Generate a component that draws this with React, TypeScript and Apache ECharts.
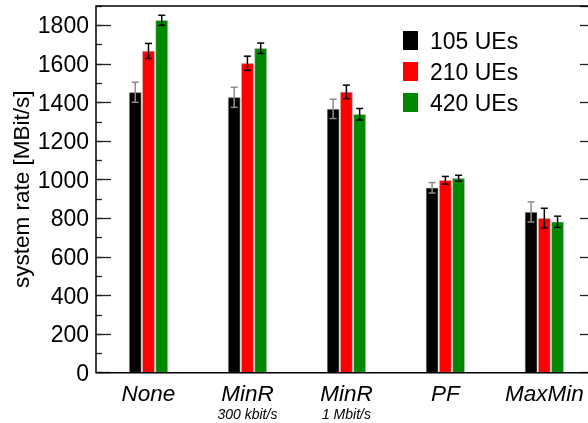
import React, { useEffect, useRef } from 'react';
import * as echarts from 'echarts';

// Scheduling strategies (label | optional sub-label)
const categories = ['None', 'MinR|300 kbit/s', 'MinR|1 Mbit/s', 'PF', 'MaxMin'];
const seriesNames = ['105 UEs', '210 UEs', '420 UEs'];
const seriesColors = ['#000000', '#ff0000', '#008800'];
const errorColors = ['#8c8c8c', '#000000', '#000000'];

// Mean system rate [MBit/s]
const rate105 = [1453, 1427, 1367, 958, 833];
const rate210 = [1667, 1603, 1455, 997, 801];
const rate420 = [1826, 1681, 1339, 1008, 782];

// Half-width of the confidence intervals [MBit/s]
const err105 = [52, 52, 50, 27, 52];
const err210 = [39, 37, 35, 20, 51];
const err420 = [26, 27, 30, 15, 29];

const Y_MIN = 0;
const Y_MAX = 1900;
const MAJOR_STEP = 200;
const MINOR_STEP = 100;

const FONT = '"Liberation Sans", Arial, Helvetica, sans-serif';
const BAR_WIDTH = 12.5;
const BAR_GAP_PX = 0.75;

export default function App() {
  const ref = useRef<HTMLDivElement>(null);

  useEffect(() => {
    if (!ref.current) return;
    const chart = echarts.init(ref.current, null, { renderer: 'svg' });

    const rates = [rate105, rate210, rate420];
    const errs = [err105, err210, err420];

    const barSeries = rates.map((vals, i) => ({
      type: 'bar',
      name: seriesNames[i],
      data: vals,
      xAxisIndex: 0,
      yAxisIndex: 0,
      barWidth: BAR_WIDTH,
      barGap: `${(BAR_GAP_PX / BAR_WIDTH) * 100}%`,
      itemStyle: {
        color: seriesColors[i],
        borderColor: 'rgba(200,200,200,0.9)',
        borderWidth: 0.6,
      },
      z: 2,
    }));

    const errorSeries = rates.map((vals, i) => {
      const offset = (i - 1) * (BAR_WIDTH + BAR_GAP_PX);
      return {
        type: 'custom',
        name: seriesNames[i] + ' CI',
        xAxisIndex: 0,
        yAxisIndex: 0,
        data: vals.map((v, k) => [k, v - errs[i][k], v + errs[i][k]]),
        encode: { x: 0, y: [1, 2] },
        z: 5,
        renderItem: (_params: any, api: any) => {
          const c = api.value(0);
          const lo = api.coord([c, api.value(1)]);
          const hi = api.coord([c, api.value(2)]);
          const x = lo[0] + offset;
          const cap = 3.5;
          const style = { stroke: errorColors[i], lineWidth: 1.5, fill: 'none' };
          return {
            type: 'group',
            children: [
              { type: 'line', shape: { x1: x, y1: lo[1], x2: x, y2: hi[1] }, style },
              { type: 'line', shape: { x1: x - cap, y1: lo[1], x2: x + cap, y2: lo[1] }, style },
              { type: 'line', shape: { x1: x - cap, y1: hi[1], x2: x + cap, y2: hi[1] }, style },
            ],
          };
        },
      };
    });

    const baseY = {
      type: 'value',
      min: Y_MIN,
      max: Y_MAX,
      splitLine: { show: false },
      axisLine: { show: false },
    };

    const option: any = {
      animation: false,
      textStyle: { fontFamily: FONT, color: '#000' },
      grid: {
        left: 99,
        right: -5.8,
        top: 6,
        bottom: 50.3,
        containLabel: false,
        outerBoundsMode: 'none',
      },
      legend: {
        data: seriesNames,
        orient: 'vertical',
        left: 403,
        top: 29,
        padding: 0,
        icon: 'rect',
        itemWidth: 15,
        itemHeight: 19,
        itemGap: 8,
        itemStyle: { borderWidth: 0 },
        textStyle: { fontSize: 23, color: '#000', fontFamily: FONT, padding: [0, 0, 0, 7] },
      },
      xAxis: {
        type: 'category',
        data: categories,
        axisLine: { show: false },
        axisTick: { show: false },
        axisLabel: {
          margin: 9,
          interval: 0,
          hideOverlap: false,
          formatter: (v: string) => {
            const [main, sub] = v.split('|');
            return sub ? `{m|${main}}\n{s|${sub}}` : `{m|${main}}`;
          },
          rich: {
            m: { fontSize: 22.5, fontStyle: 'italic', lineHeight: 24, color: '#000', fontFamily: FONT },
            s: { fontSize: 14, fontStyle: 'italic', lineHeight: 17, color: '#000', fontFamily: FONT },
          },
        },
      },
      yAxis: [
        {
          ...baseY,
          position: 'left',
          offset: 3,
          interval: MAJOR_STEP,
          name: 'system rate [MBit/s]',
          nameLocation: 'middle',
          nameGap: 63,
          nameMoveOverlap: false,
          nameTextStyle: { fontSize: 22.5, color: '#000', fontFamily: FONT },
          axisTick: { show: true, inside: true, length: 15, lineStyle: { color: '#222', width: 1.3 } },
          axisLabel: {
            fontSize: 23,
            margin: 7,
            color: '#000',
            showMaxLabel: false,
            formatter: (v: number) => String(v),
          },
        },
        {
          ...baseY,
          position: 'left',
          offset: 3,
          interval: MINOR_STEP,
          axisTick: { show: true, inside: true, length: 6, lineStyle: { color: '#222', width: 1.3 } },
          axisLabel: { show: false },
        },
        {
          ...baseY,
          position: 'right',
          offset: 1.2,
          interval: MAJOR_STEP,
          axisTick: { show: true, inside: true, length: 15, lineStyle: { color: '#222', width: 1.3 } },
          axisLabel: { show: false },
        },
        {
          ...baseY,
          position: 'right',
          offset: 1.2,
          interval: MINOR_STEP,
          axisTick: { show: true, inside: true, length: 6, lineStyle: { color: '#222', width: 1.3 } },
          axisLabel: { show: false },
        },
      ],
      graphic: [
        {
          type: 'rect',
          shape: { x: 96, y: 6, width: 499, height: 366.7 },
          style: { fill: 'none', stroke: '#000', lineWidth: 1.5 },
          z: 10,
          silent: true,
        },
      ],
      series: [...barSeries, ...errorSeries],
    };

    chart.setOption(option);
    return () => chart.dispose();
  }, []);

  return (
    <div
      ref={ref}
      style={{ position: 'fixed', left: 0, top: 0, width: 588, height: 423 }}
    />
  );
}
